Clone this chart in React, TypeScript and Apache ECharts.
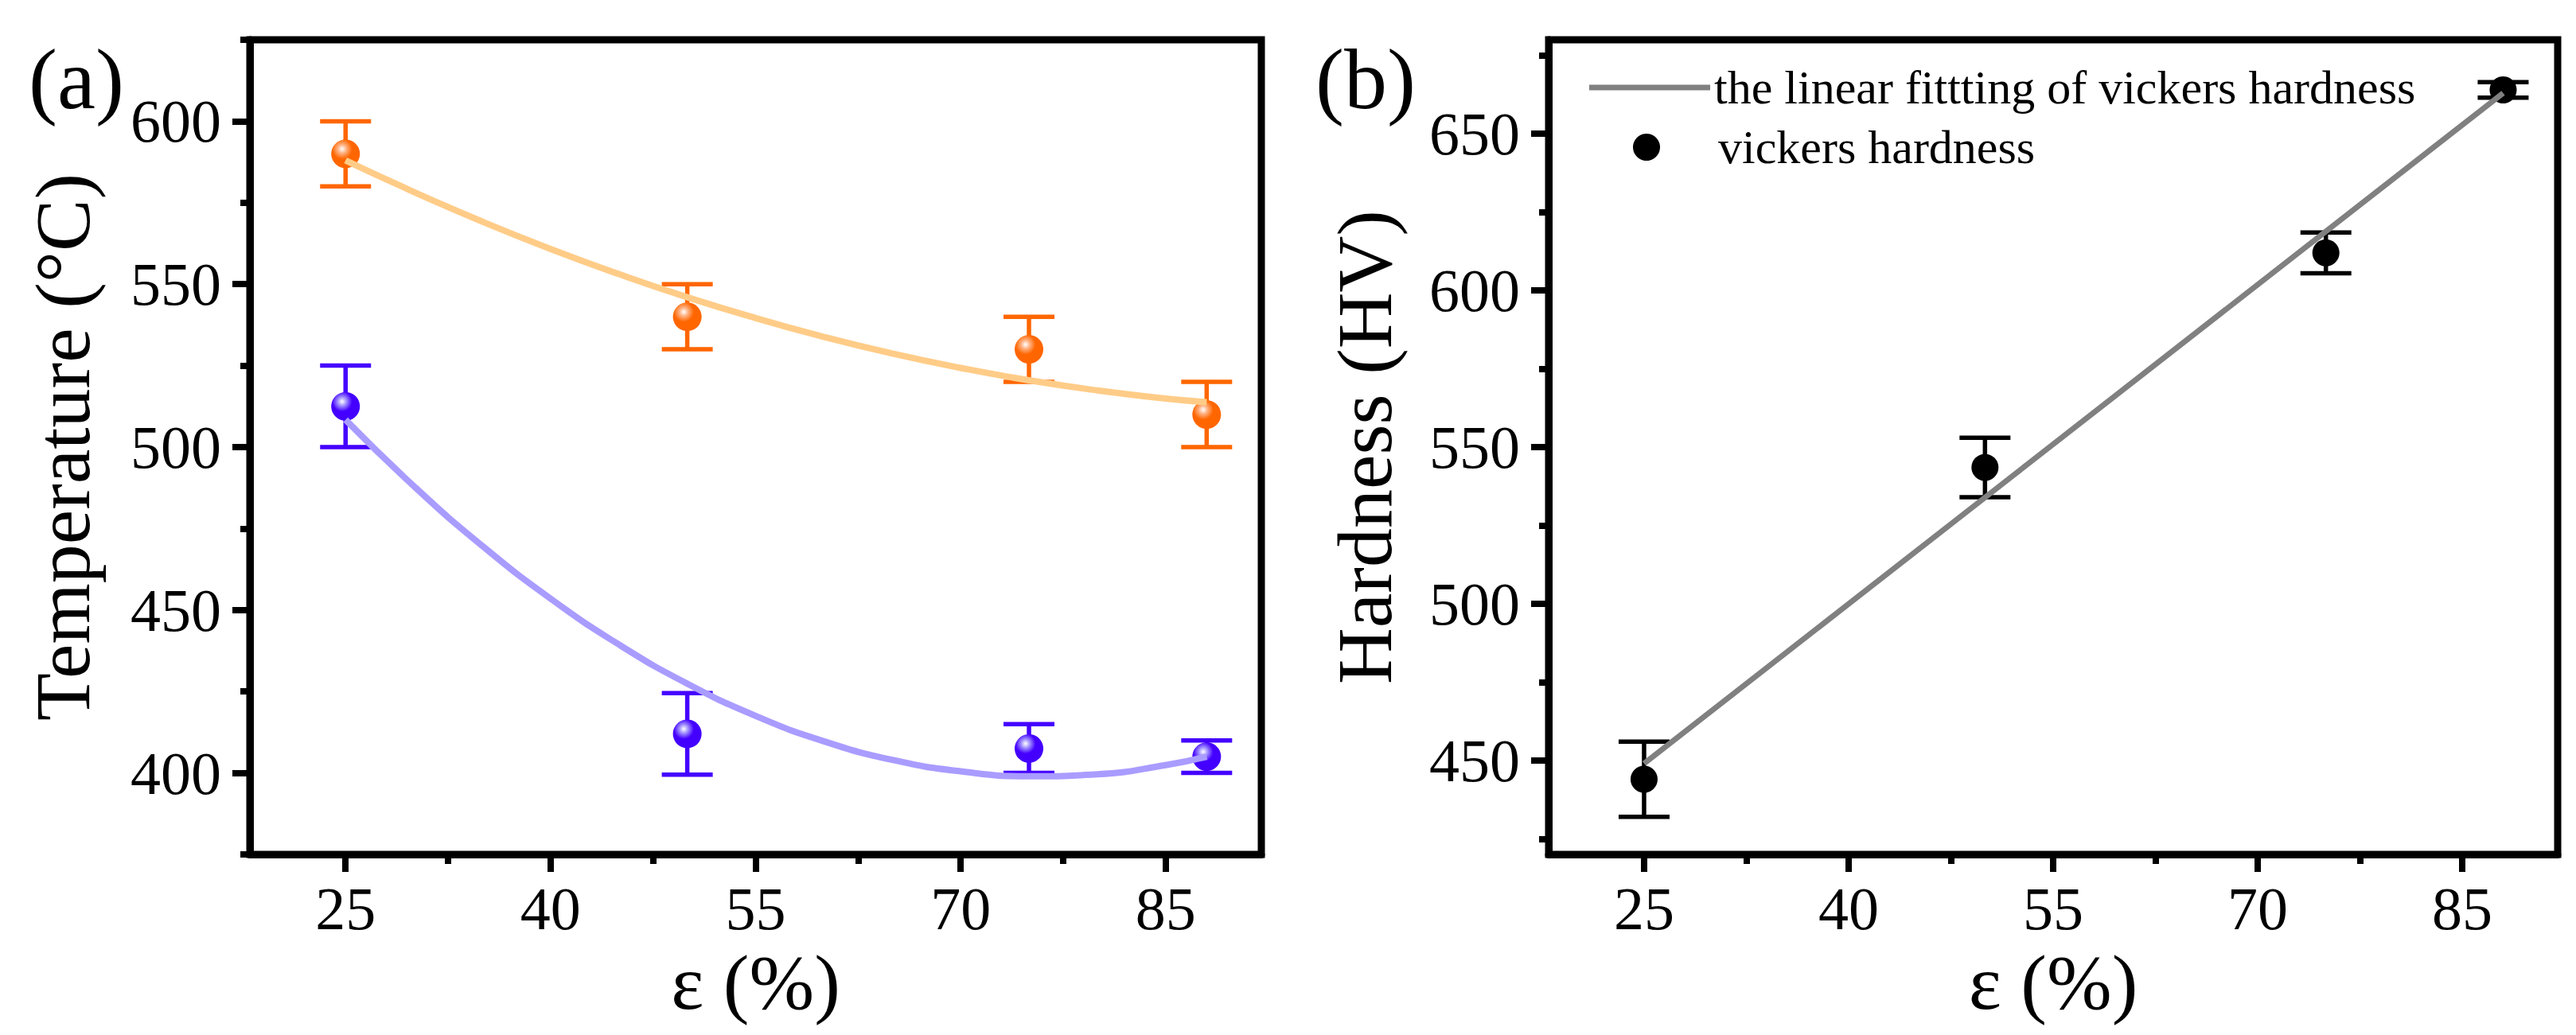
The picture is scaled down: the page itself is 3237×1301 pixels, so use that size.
import React, { useEffect, useRef } from "react";
import * as echarts from "echarts";

// ---------- data ----------
const strainX = [25, 50, 75, 88];

// panel (a): temperatures
const orangeTemp = [590, 540, 530, 510];
const orangeErr = [10, 10, 10, 10];
const purpleTemp = [512.5, 412, 407.5, 405];
const purpleErr = [12.5, 12.5, 7.5, 5];

// fitted curves of panel (a)
const fitX = [25, 30, 35, 40, 45, 50, 55, 60, 65, 70, 75, 80, 85, 88];
const orangeFit = [588, 578.3, 569.2, 560.8, 553.1, 546, 539.6, 533.8, 528.7, 524.3, 520.5, 517.4, 514.9, 513.8];
const purpleFit = [508.4, 488, 469.7, 453.5, 439.4, 427.4, 417.5, 409.7, 404, 400.5, 399, 399.6, 402.4, 405];

// panel (b): hardness
const hardness = [444, 543.5, 612, 664];
const hardnessErr = [12, 9.5, 6.5, 2.5];
const linearFitX = [25, 88];
const linearFitY = [449, 663];

// ticks
const xMajor = [25, 40, 55, 70, 85];
const xMinor = [32.5, 47.5, 62.5, 77.5];
const yMajorA = [400, 450, 500, 550, 600];
const yMinorA = [375, 425, 475, 525, 575, 625];
const yMajorB = [450, 500, 550, 600, 650];
const yMinorB = [425, 475, 525, 575, 625, 675];

const fitName = "the linear fittting of vickers hardness";
const ptName = "vickers hardness";

const FONT = "'Liberation Serif', 'Times New Roman', serif";

function sphere(base: string, mid: string) {
  return {
    type: "radial",
    x: 0.38,
    y: 0.33,
    r: 0.7,
    colorStops: [
      { offset: 0, color: "#ffffff" },
      { offset: 0.22, color: mid },
      { offset: 0.5, color: base },
      { offset: 1, color: base },
    ],
  };
}

function errorSeries(xi: number, yi: number, xs: number[], ys: number[], es: number[], color: string) {
  return {
    type: "custom",
    xAxisIndex: xi,
    yAxisIndex: yi,
    z: 2,
    silent: true,
    data: xs.map((x, i) => [x, ys[i] - es[i], ys[i] + es[i]]),
    encode: { x: 0, y: [1, 2] },
    renderItem: (params: any, api: any) => {
      const x = api.value(0);
      const lo = api.coord([x, api.value(1)]);
      const hi = api.coord([x, api.value(2)]);
      const hw = 32;
      const style = { stroke: color, lineWidth: 5.5, fill: null };
      return {
        type: "group",
        children: [
          { type: "line", shape: { x1: lo[0], y1: lo[1], x2: hi[0], y2: hi[1] }, style },
          { type: "line", shape: { x1: lo[0] - hw, y1: lo[1], x2: lo[0] + hw, y2: lo[1] }, style },
          { type: "line", shape: { x1: hi[0] - hw, y1: hi[1], x2: hi[0] + hw, y2: hi[1] }, style },
        ],
      };
    },
  };
}

function mainX(gi: number, name: string) {
  return {
    type: "value",
    gridIndex: gi,
    position: "bottom",
    min: 18,
    max: 92,
    name,
    nameLocation: "middle",
    nameGap: 112,
    nameTextStyle: { fontSize: 98, fontFamily: FONT, color: "#000" },
    axisLine: { show: true, onZero: false, lineStyle: { color: "#000", width: 9 } },
    axisTick: { show: true, customValues: xMajor, length: 22, lineStyle: { color: "#000", width: 8 } },
    axisLabel: { show: true, customValues: xMajor, margin: 30, fontSize: 76, fontFamily: FONT, color: "#000" },
    splitLine: { show: false },
  };
}
function minorX(gi: number) {
  return {
    type: "value",
    gridIndex: gi,
    position: "bottom",
    min: 18,
    max: 92,
    axisLine: { show: false, onZero: false },
    axisTick: { show: true, customValues: xMinor, length: 12, lineStyle: { color: "#000", width: 8 } },
    axisLabel: { show: false },
    splitLine: { show: false },
  };
}
function mainY(gi: number, min: number, max: number, majors: number[], name: string, gap: number) {
  return {
    type: "value",
    gridIndex: gi,
    position: "left",
    min,
    max,
    name,
    nameLocation: "middle",
    nameGap: gap,
    nameTextStyle: { fontSize: 98, fontFamily: FONT, color: "#000" },
    axisLine: { show: true, onZero: false, lineStyle: { color: "#000", width: 9 } },
    axisTick: { show: true, customValues: majors, length: 22, lineStyle: { color: "#000", width: 8 } },
    axisLabel: { show: true, customValues: majors, margin: 36, fontSize: 76, fontFamily: FONT, color: "#000" },
    splitLine: { show: false },
  };
}
function minorY(gi: number, min: number, max: number, minors: number[]) {
  return {
    type: "value",
    gridIndex: gi,
    position: "left",
    min,
    max,
    axisLine: { show: false, onZero: false },
    axisTick: { show: true, customValues: minors, length: 12, lineStyle: { color: "#000", width: 8 } },
    axisLabel: { show: false },
    splitLine: { show: false },
  };
}

export default function App() {
  const ref = useRef<HTMLDivElement>(null);
  useEffect(() => {
    if (!ref.current) return;
    const chart = echarts.init(ref.current, null, { renderer: "svg" });
    const option: any = {
      animation: false,
      backgroundColor: "#ffffff",
      title: [
        { text: "(a)", left: 36, top: 45, padding: 0, textStyle: { fontSize: 108, fontWeight: "normal", fontFamily: FONT, color: "#000" } },
        { text: "(b)", left: 1653, top: 45, padding: 0, textStyle: { fontSize: 108, fontWeight: "normal", fontFamily: FONT, color: "#000" } },
      ],
      legend: [
        {
          data: [{ name: fitName, icon: "rect", itemStyle: { color: "#808080" } }],
          left: 1997,
          top: 80,
          padding: 0,
          itemWidth: 152,
          itemHeight: 7,
          selectedMode: false,
          textStyle: { fontSize: 60, fontFamily: FONT, color: "#000" },
        },
      ],
      graphic: [
        {
          type: "circle",
          silent: true,
          shape: { cx: 2069, cy: 185, r: 17 },
          style: { fill: "#000" },
        },
        {
          type: "text",
          silent: true,
          x: 2159,
          y: 185,
          style: {
            text: ptName,
            fontSize: 60,
            fontFamily: FONT,
            fill: "#000",
            verticalAlign: "middle",
            textVerticalAlign: "middle",
          },
        },
      ],
      grid: [
        { left: 314, top: 50, width: 1271, height: 1024, show: true, borderColor: "#000", borderWidth: 9, backgroundColor: "transparent" },
        { left: 1946, top: 50, width: 1268, height: 1024, show: true, borderColor: "#000", borderWidth: 9, backgroundColor: "transparent" },
      ],
      xAxis: [mainX(0, "ε (%)"), minorX(0), mainX(1, "ε (%)"), minorX(1)],
      yAxis: [
        mainY(0, 375, 625, yMajorA, "Temperature (°C)", 186),
        minorY(0, 375, 625, yMinorA),
        mainY(1, 420, 680, yMajorB, "Hardness (HV)", 182),
        minorY(1, 420, 680, yMinorB),
      ],
      series: [
        errorSeries(0, 0, strainX, orangeTemp, orangeErr, "#FF6600"),
        errorSeries(0, 0, strainX, purpleTemp, purpleErr, "#4400FF"),
        {
          type: "scatter",
          xAxisIndex: 0,
          yAxisIndex: 0,
          symbol: "circle",
          symbolSize: 36,
          z: 3,
          data: strainX.map((x, i) => [x, orangeTemp[i]]),
          itemStyle: { color: sphere("#FF6600", "#FFB080"), opacity: 1 },
        },
        {
          type: "scatter",
          xAxisIndex: 0,
          yAxisIndex: 0,
          symbol: "circle",
          symbolSize: 36,
          z: 3,
          data: strainX.map((x, i) => [x, purpleTemp[i]]),
          itemStyle: { color: sphere("#4400FF", "#A090FF"), opacity: 1 },
        },
        {
          type: "line",
          xAxisIndex: 0,
          yAxisIndex: 0,
          smooth: true,
          showSymbol: false,
          z: 4,
          data: fitX.map((x, i) => [x, orangeFit[i]]),
          lineStyle: { color: "#FFCC88", width: 8 },
        },
        {
          type: "line",
          xAxisIndex: 0,
          yAxisIndex: 0,
          smooth: true,
          showSymbol: false,
          z: 4,
          data: fitX.map((x, i) => [x, purpleFit[i]]),
          lineStyle: { color: "#A99CFF", width: 8 },
        },
        errorSeries(2, 2, strainX, hardness, hardnessErr, "#000000"),
        {
          name: ptName,
          type: "scatter",
          xAxisIndex: 2,
          yAxisIndex: 2,
          symbol: "circle",
          symbolSize: 34,
          z: 3,
          data: strainX.map((x, i) => [x, hardness[i]]),
          itemStyle: { color: "#000000", opacity: 1 },
        },
        {
          name: fitName,
          type: "line",
          xAxisIndex: 2,
          yAxisIndex: 2,
          showSymbol: false,
          z: 4,
          color: "#808080",
          data: linearFitX.map((x, i) => [x, linearFitY[i]]),
          lineStyle: { color: "#808080", width: 7 },
        },
      ],
    };
    chart.setOption(option);
    return () => chart.dispose();
  }, []);
  return (
    <div
      ref={ref}
      style={{ position: "fixed", left: 0, top: 0, width: 3237, height: 1301, background: "#fff" }}
    />
  );
}
